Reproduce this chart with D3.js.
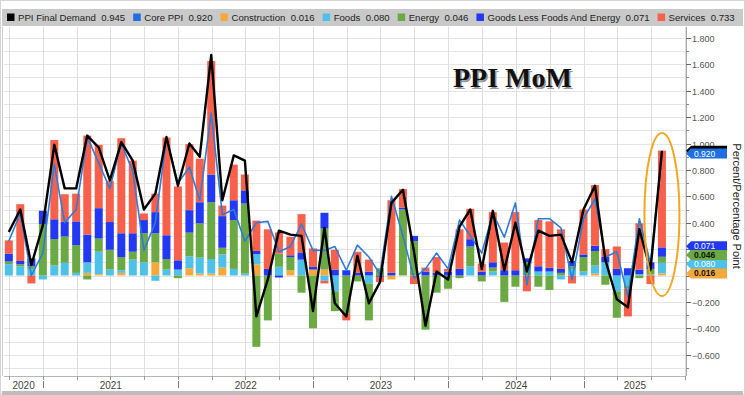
<!DOCTYPE html>
<html>
<head>
<meta charset="utf-8">
<script src="https://cdn.jsdelivr.net/npm/d3@7"></script>
<style>
  body { margin: 0; background: #fff; }
  svg { display: block; font-family: "Liberation Sans", Arial, sans-serif; }
</style>
</head>
<body>
<svg id="chart" width="745" height="395"></svg>
<script>
// monthly contributions to PPI final demand, MoM %
var months = ["2020-09","2020-10","2020-11","2020-12",
  "2021-01","2021-02","2021-03","2021-04","2021-05","2021-06","2021-07","2021-08","2021-09","2021-10","2021-11","2021-12",
  "2022-01","2022-02","2022-03","2022-04","2022-05","2022-06","2022-07","2022-08","2022-09","2022-10","2022-11","2022-12",
  "2023-01","2023-02","2023-03","2023-04","2023-05","2023-06","2023-07","2023-08","2023-09","2023-10","2023-11","2023-12",
  "2024-01","2024-02","2024-03","2024-04","2024-05","2024-06","2024-07","2024-08","2024-09","2024-10","2024-11","2024-12",
  "2025-01","2025-02","2025-03","2025-04","2025-05","2025-06","2025-07"];

var construction = [0,0,0,0, 0,0,0,0.02,0.01,0,0.02,0,0,0.10,0,0,
  0.055,0.015,0.015,0.06,0,0,0.085,0,0,0.04,0,0.045,
  0.045,0,0,0,0,0,-0.03,0,0,0,0,0,
  0,0,0,0,0,0,0,0,0,0,0,0,
  0.015,0,0,0,0,0,0.016];
var foods = [0.086,0.07,0.05,-0.03, 0.076,0.096,0.02,0.08,0.17,0.045,0.02,0.12,0.10,-0.04,0.045,0.045,
  0.09,0.12,0.11,0.10,0.05,0.015,0.076,0,0.066,0,0.12,0,
  -0.04,-0.12,0,0,-0.06,0,0,0,0,0,0,0,
  0,0.07,0,0.03,0,0,0,0.03,0.03,-0.03,0.05,0.03,
  0.06,0.10,-0.12,-0.08,0.01,0.01,0.080];
var energy = [0.02,0.015,0.02,0.39, 0.20,0.20,0.21,-0.03,0.10,0.15,0.10,0.06,0.22,0.22,0.08,-0.02,
  0.18,0.26,0.43,0.05,0.37,0.53,-0.54,-0.34,0.10,0.10,-0.13,-0.40,
  0.31,-0.15,-0.29,-0.045,-0.28,0.055,0,0.50,0.26,-0.41,-0.13,-0.10,
  -0.02,0.15,-0.045,0.03,-0.20,-0.085,0.10,-0.085,-0.11,0.02,0.02,0.11,
  0.11,-0.07,-0.20,-0.02,-0.02,0.04,0.046];
var goods = [0.06,0.025,0.06,0.10, 0.15,0.11,0.18,0.21,0.23,0.21,0.18,0.14,0.10,0.16,0.18,0.07,
  0.17,0.16,0.21,0.24,0.15,0.10,0.025,0.05,-0.015,0.013,0.055,0.02,
  0.12,0.045,0.04,0.02,0.03,-0.01,0.02,0.015,0.04,0.03,0.02,0.03,
  0.05,0.055,0.03,0.04,0.04,0.04,0.03,0.04,0.03,0.03,0.04,0.02,
  0.04,0.04,0.05,0.055,0.035,0.05,0.071];
var services = [0.10,0.43,-0.06,0, 0.60,0.21,0.21,0.75,0.48,0.31,0.72,0.55,0.05,0.14,0.74,0.56,
  0.50,0.33,0.86,0.08,0.27,0.12,0.23,0.30,0.16,0.14,0.29,0.14,
  -0.02,0.15,-0.05,0.16,0.09,-0.04,0.55,0.14,-0.065,0.03,0.12,0.02,
  0.30,0.23,0.06,0.38,0.21,0.44,-0.12,0.35,0.35,0.30,-0.06,0.34,
  0.46,0.06,0.17,-0.21,0.35,-0.065,0.733];
var finalDemand = [0.33,0.50,0.08,0.38, 0.99,0.66,0.66,1.06,0.97,0.72,1.01,0.87,0.50,0.62,1.05,0.68,
  1.00,0.90,1.67,0.57,0.91,0.87,-0.31,-0.03,0.34,0.31,0.30,-0.27,
  0.36,-0.21,-0.31,0.15,-0.21,-0.05,0.55,0.65,0.18,-0.38,0.03,-0.03,
  0.37,0.50,0.05,0.49,0.04,0.40,0.03,0.34,0.30,0.31,0.10,0.50,
  0.68,0.12,-0.18,-0.24,0.35,0.04,0.945];
var corePPI = [0.26,0.47,0.00,0.17, 0.84,0.40,0.50,1.05,0.85,0.66,1.00,0.79,0.19,0.40,1.04,0.70,
  0.82,0.57,1.23,0.46,0.50,0.26,0.40,0.41,0.18,0.22,0.39,0.19,
  0.19,0.22,0.04,0.23,0.14,0.01,0.60,0.30,-0.02,0.05,0.17,0.05,
  0.42,0.30,0.17,0.47,0.29,0.55,-0.07,0.43,0.43,0.36,-0.03,0.43,
  0.58,0.14,0.18,-0.16,0.43,0.09,0.920];

var yearLabels = ["2020","2021","2022","2023","2024","2025"];
var yTickValues = [-0.6,-0.4,-0.2,0,0.2,0.4,0.6,0.8,1.0,1.2,1.4,1.6,1.8];

var seriesNames = ["Construction","Foods","Energy","Goods Less Foods And Energy","Services"];
var seriesColors = ["#f6a93b","#4dc1e7","#6aa944","#2238f2","#f7614c"];

// legend rows (name, colour); value is the last point of each series
var legendNames = ["PPI Final Demand","Core PPI","Construction","Foods","Energy","Goods Less Foods And Energy","Services"];
var legendColors = ["#000000","#1f6fe0","#f6a93b","#4dc1e7","#6aa944","#2238f2","#f7614c"];

var svg = d3.select("#chart");
var W = 745, H = 395;
var plotL = 4, plotR = 686, plotT = 27, plotB = 376;

var parseM = d3.timeParse("%Y-%m");
var monthEnd = function(s) {
  var d = parseM(s);
  return new Date(d.getFullYear(), d.getMonth() + 1, 0);
};

var x = d3.scaleTime()
  .domain([new Date(2020, 8, 17), new Date(2025, 9, 4)])
  .range([plotL, plotR]);
var y = d3.scaleLinear()
  .domain([-0.7, 1.8])
  .range([367.9, 37.9]);

// outer frame
svg.append("rect").attr("x", 0.5).attr("y", 0.5).attr("width", W - 1).attr("height", H - 1)
  .attr("fill", "#fff").attr("stroke", "#d4d4d4");

// grid
var hGrid = d3.range(-7, 19).map(function(k) { return k / 10; });
svg.append("g").selectAll("line").data(hGrid).enter().append("line")
  .attr("x1", plotL).attr("x2", plotR)
  .attr("y1", function(d) { return Math.round(y(d)) + 0.5; })
  .attr("y2", function(d) { return Math.round(y(d)) + 0.5; })
  .attr("stroke", "#e4e4e4");

var quarters = d3.timeMonth.every(3).range(new Date(2020, 9, 1), new Date(2025, 9, 2));
svg.append("g").selectAll("line").data(quarters).enter().append("line")
  .attr("x1", function(d) { return Math.round(x(d)) + 0.5; })
  .attr("x2", function(d) { return Math.round(x(d)) + 0.5; })
  .attr("y1", plotT).attr("y2", plotB)
  .attr("stroke", "#dedede");

// stacked bars
var rows = months.map(function(m, i) {
  return { date: monthEnd(m), "Construction": construction[i], "Foods": foods[i], "Energy": energy[i],
    "Goods Less Foods And Energy": goods[i], "Services": services[i] };
});
var stacked = d3.stack().keys(seriesNames).offset(d3.stackOffsetDiverging)(rows);
var barW = 8;

svg.append("g").selectAll("g").data(stacked).enter().append("g")
  .attr("fill", function(d, i) { return seriesColors[i]; })
  .selectAll("rect").data(function(d) { return d; }).enter().append("rect")
  .attr("x", function(d) { return x(d.data.date) - barW / 2; })
  .attr("width", barW)
  .attr("y", function(d) { return y(Math.max(d[0], d[1])); })
  .attr("height", function(d) { return Math.abs(y(d[0]) - y(d[1])); });

// lines
var line = function(vals) {
  return d3.line()
    .x(function(d, i) { return x(monthEnd(months[i])); })
    .y(function(d) { return y(d); })(vals);
};
svg.append("path").attr("d", line(corePPI))
  .attr("fill", "none").attr("stroke", "#2f7bd8").attr("stroke-width", 1.6).attr("stroke-linejoin", "round");
svg.append("path").attr("d", line(finalDemand))
  .attr("fill", "none").attr("stroke", "#000").attr("stroke-width", 2.4).attr("stroke-linejoin", "round");

// highlight ellipse on latest month
var lastX = x(monthEnd(months[months.length - 1]));
svg.append("ellipse")
  .attr("cx", lastX).attr("cy", (y(1.08) + y(-0.155)) / 2)
  .attr("rx", 17.5).attr("ry", (y(-0.155) - y(1.08)) / 2)
  .attr("fill", "none").attr("stroke", "#f0a823").attr("stroke-width", 2);

// frame lines
svg.append("line").attr("x1", plotL - 1.5).attr("x2", plotL - 1.5).attr("y1", plotT).attr("y2", plotB)
  .attr("stroke", "#cfcfcf");
svg.append("line").attr("x1", plotL).attr("x2", plotR).attr("y1", plotB + 0.5).attr("y2", plotB + 0.5)
  .attr("stroke", "#b5b5b5");
svg.append("line").attr("x1", plotR + 0.5).attr("x2", plotR + 0.5).attr("y1", plotT).attr("y2", plotB)
  .attr("stroke", "#a8a8a8");

// last-value tags (value, colour, text colour, vertical nudge to avoid overlap)
var tags = [
  { v: foods[58], c: "#4dc1e7", t: "#fff", dy: -1, label: true },
  { v: goods[58], c: "#2238f2", t: "#fff", dy: -20, label: true },
  { v: energy[58], c: "#6aa944", t: "#111", dy: -14.4, label: true },
  { v: construction[58], c: "#f6a93b", t: "#111", dy: 0, label: true },
  { v: finalDemand[58], c: "#000", t: "#fff", dy: 0, label: false },
  { v: corePPI[58], c: "#1f6fe0", t: "#fff", dy: -0.5, label: true }
];
var tagY = function(d) { return y(d.v) + d.dy; };

// right axis ticks + labels (labels hidden behind the tags are left out)
var yMinor = hGrid.filter(function(d) { return yTickValues.indexOf(d) < 0 && d > -0.75; });
svg.append("g").selectAll("line").data(yMinor).enter().append("line")
  .attr("x1", plotR).attr("x2", plotR + 3)
  .attr("y1", function(d) { return Math.round(y(d)) + 0.5; })
  .attr("y2", function(d) { return Math.round(y(d)) + 0.5; })
  .attr("stroke", "#888");
var yAx = svg.append("g").selectAll("g").data(yTickValues).enter().append("g")
  .attr("transform", function(d) { return "translate(" + plotR + "," + (Math.round(y(d)) + 0.5) + ")"; });
yAx.append("line").attr("x1", 0).attr("x2", 5).attr("stroke", "#666");
yAx.filter(function(d) {
    return !tags.some(function(t) { return Math.abs(tagY(t) - y(d)) < 6; });
  })
  .append("text").attr("x", 6).attr("dy", "0.35em")
  .attr("font-size", 9).attr("fill", "#555")
  .text(function(d) { return d3.format(".3f")(d); });

// axis title
svg.append("text")
  .attr("transform", "translate(733,206) rotate(90)")
  .attr("text-anchor", "middle").attr("font-size", 11).attr("fill", "#222")
  .text("Percent/Percentage Point");

var tagG = svg.append("g").selectAll("g").data(tags).enter().append("g")
  .attr("transform", function(d) { return "translate(" + plotR + "," + tagY(d) + ")"; });
tagG.append("path")
  .attr("d", "M0,0 L5,-5 L41,-5 L41,5 L5,5 Z")
  .attr("fill", function(d) { return d.c; });
tagG.filter(function(d) { return d.label; })
  .append("text").attr("x", 8).attr("dy", "0.35em")
  .attr("font-size", 8.5).attr("fill", function(d) { return d.t; })
  .attr("font-weight", function(d) { return d.t === "#111" ? "bold" : "normal"; })
  .text(function(d) { return d3.format(".3f")(d.v); });

// bottom axis
svg.append("g").selectAll("line").data(quarters).enter().append("line")
  .attr("x1", function(d) { return Math.round(x(d)) + 0.5; })
  .attr("x2", function(d) { return Math.round(x(d)) + 0.5; })
  .attr("y1", plotB).attr("y2", plotB + 4)
  .attr("stroke", "#999");
var yearStarts = d3.timeYear.range(new Date(2021, 0, 1), new Date(2025, 1, 1));
svg.append("g").selectAll("line").data(yearStarts).enter().append("line")
  .attr("x1", function(d) { return Math.round(x(d)) + 0.5; })
  .attr("x2", function(d) { return Math.round(x(d)) + 0.5; })
  .attr("y1", plotB + 5).attr("y2", plotB + 12)
  .attr("stroke", "#777");
svg.append("g").selectAll("text").data(yearLabels).enter().append("text")
  .attr("x", function(d) {
    var yr = +d;
    var a = Math.max(x(new Date(yr, 0, 1)), plotL);
    var b = Math.min(x(new Date(yr + 1, 0, 1)), plotR);
    return (a + b) / 2;
  })
  .attr("y", plotB + 13)
  .attr("text-anchor", "middle").attr("font-size", 10).attr("fill", "#444")
  .text(function(d) { return d; });
svg.append("rect").attr("x", 2).attr("y", 391).attr("width", W - 4).attr("height", 4).attr("fill", "#bdbdbd");

// title
svg.append("text").attr("x", 453).attr("y", 87)
  .attr("font-family", "'Liberation Serif', 'Times New Roman', serif")
  .attr("font-weight", "bold").attr("font-size", 28).attr("fill", "#9a9a9a")
  .attr("transform", "translate(1.5,1.5)")
  .text("PPI MoM");
svg.append("text").attr("x", 453).attr("y", 87)
  .attr("font-family", "'Liberation Serif', 'Times New Roman', serif")
  .attr("font-weight", "bold").attr("font-size", 28).attr("fill", "#111")
  .text("PPI MoM");

// legend band
svg.append("rect").attr("x", 2).attr("y", 9).attr("width", W - 4).attr("height", 17).attr("fill", "#c9c9c9");
var legendVals = [finalDemand[58], corePPI[58], construction[58], foods[58], energy[58], goods[58], services[58]];
var lx = 7;
legendNames.forEach(function(name, i) {
  svg.append("rect").attr("x", lx).attr("y", 13.5).attr("width", 7.5).attr("height", 7.5)
    .attr("fill", legendColors[i]);
  var t = svg.append("text").attr("x", lx + 11).attr("y", 20.5)
    .attr("font-size", 9.6).attr("fill", "#222")
    .attr("xml:space", "preserve")
    .text(name + "  " + d3.format(".3f")(legendVals[i]));
  lx += 11 + t.node().getComputedTextLength() + 8;
});
</script>
</body>
</html>
